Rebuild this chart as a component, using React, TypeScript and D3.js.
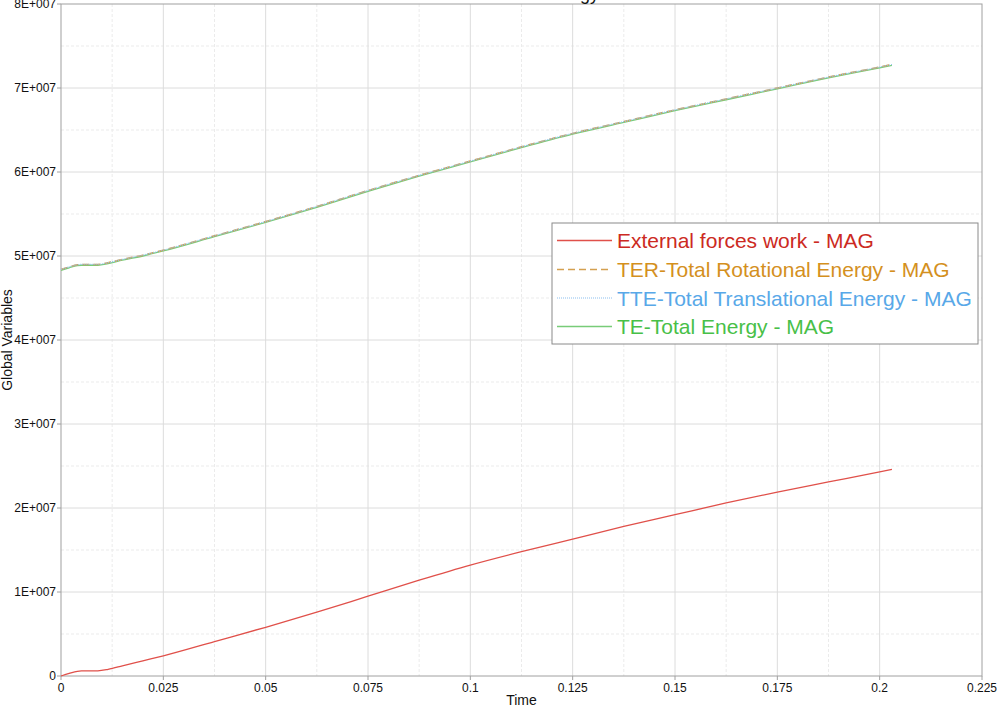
import React from "react";
import * as d3 from "d3";

const times = [0, 0.002, 0.004, 0.005, 0.007, 0.009, 0.0115, 0.015, 0.02, 0.025, 0.0375, 0.05, 0.0625, 0.075, 0.0875, 0.1, 0.1125, 0.125, 0.1375, 0.15, 0.1625, 0.175, 0.1875, 0.2, 0.203];
const externalWork = [0, 3.0e5, 5.5e5, 6.0e5, 6.0e5, 6.2e5, 8.0e5, 1.2e6, 1.8e6, 2.4e6, 4.1e6, 5.8e6, 7.6e6, 9.5e6, 1.14e7, 1.32e7, 1.48e7, 1.63e7, 1.78e7, 1.92e7, 2.06e7, 2.19e7, 2.31e7, 2.43e7, 2.46e7];
const rotationalEnergy = [4.84e7, 4.87e7, 4.895e7, 4.9e7, 4.9e7, 4.9e7, 4.92e7, 4.96e7, 5.01e7, 5.07e7, 5.24e7, 5.41e7, 5.59e7, 5.78e7, 5.96e7, 6.13e7, 6.30e7, 6.46e7, 6.60e7, 6.74e7, 6.87e7, 7.00e7, 7.13e7, 7.25e7, 7.28e7];
const translationalEnergy = [4.84e7, 4.87e7, 4.895e7, 4.9e7, 4.9e7, 4.9e7, 4.92e7, 4.96e7, 5.01e7, 5.07e7, 5.24e7, 5.41e7, 5.59e7, 5.78e7, 5.96e7, 6.13e7, 6.30e7, 6.46e7, 6.60e7, 6.74e7, 6.87e7, 7.00e7, 7.13e7, 7.25e7, 7.28e7];
const totalEnergy = [4.83e7, 4.86e7, 4.885e7, 4.89e7, 4.89e7, 4.89e7, 4.91e7, 4.95e7, 5.0e7, 5.06e7, 5.23e7, 5.40e7, 5.58e7, 5.77e7, 5.95e7, 6.12e7, 6.29e7, 6.45e7, 6.59e7, 6.73e7, 6.86e7, 6.99e7, 7.12e7, 7.24e7, 7.27e7];

const xTicks = [0, 0.025, 0.05, 0.075, 0.1, 0.125, 0.15, 0.175, 0.2, 0.225];
const xTickLabels = ["0", "0.025", "0.05", "0.075", "0.1", "0.125", "0.15", "0.175", "0.2", "0.225"];
const yTicks = [0, 1e7, 2e7, 3e7, 4e7, 5e7, 6e7, 7e7, 8e7];
const yTickLabels = ["0", "1E+007", "2E+007", "3E+007", "4E+007", "5E+007", "6E+007", "7E+007", "8E+007"];

const seriesNames = [
  "External forces work - MAG",
  "TER-Total Rotational Energy - MAG",
  "TTE-Total Translational Energy - MAG",
  "TE-Total Energy - MAG",
];

const FONT = "'Liberation Sans', Arial, sans-serif";

export default function App() {
  const left = 61, right = 982, top = 4, bottom = 676;
  const x = d3.scaleLinear().domain([0, 0.225]).range([left, right]);
  const y = d3.scaleLinear().domain([0, 8e7]).range([bottom, top]);

  const minorX = d3.range(0, 8).map((i) => xTicks[i] + 0.0125);
  const minorY = d3.range(0, 8).map((i) => yTicks[i] + 5e6);

  const line = (vals: number[]) =>
    d3
      .line<number>()
      .x((_, i) => x(times[i]))
      .y((v) => y(v))
      .curve(d3.curveMonotoneX)(vals) || "";

  const series = [
    { name: seriesNames[0], vals: externalWork, stroke: "#e0504a", text: "#cc2a22", dash: "", width: 1.3 },
    { name: seriesNames[1], vals: rotationalEnergy, stroke: "#d4a050", text: "#d4901e", dash: "7,4", width: 1.5 },
    { name: seriesNames[2], vals: translationalEnergy, stroke: "#8cc0f0", text: "#58a8e8", dash: "1,1", width: 1.2 },
    { name: seriesNames[3], vals: totalEnergy, stroke: "#78cc78", text: "#48c048", dash: "", width: 1.3 },
  ];
  const drawOrder = [0, 3, 1, 2];

  const legX = 552, legY = 223, legW = 426, legH = 121;
  const rowYs = [240.5, 269.5, 298, 326.5];

  return (
    <svg width={1000} height={707} style={{ position: "absolute", left: 0, top: 0, background: "#fff" }} fontFamily={FONT}>
      <rect x={0} y={0} width={1000} height={707} fill="#fff" />
      {minorX.map((t) => (
        <line key={"mx" + t} x1={x(t)} x2={x(t)} y1={top} y2={bottom} stroke="#ebebeb" strokeDasharray="3,2" />
      ))}
      {minorY.map((v) => (
        <line key={"my" + v} x1={left} x2={right} y1={y(v)} y2={y(v)} stroke="#ebebeb" strokeDasharray="3,2" />
      ))}
      {xTicks.slice(1, -1).map((t) => (
        <line key={"gx" + t} x1={x(t)} x2={x(t)} y1={top} y2={bottom} stroke="#dcdcdc" />
      ))}
      {yTicks.slice(1, -1).map((v) => (
        <line key={"gy" + v} x1={left} x2={right} y1={y(v)} y2={y(v)} stroke="#dcdcdc" />
      ))}
      <rect x={left} y={top} width={right - left} height={bottom - top} fill="none" stroke="#a0a0a0" />
      {xTicks.map((t, i) => (
        <g key={"xt" + t}>
          <line x1={x(t)} x2={x(t)} y1={bottom} y2={bottom + 4} stroke="#a0a0a0" />
          <text x={x(t)} y={692} fontSize={12} textAnchor="middle" fill="#111">{xTickLabels[i]}</text>
        </g>
      ))}
      {yTicks.map((v, i) => (
        <g key={"yt" + v}>
          <line x1={left - 4} x2={left} y1={y(v)} y2={y(v)} stroke="#a0a0a0" />
          <text x={56} y={y(v) + 4} fontSize={12} textAnchor="end" fill="#111">{yTickLabels[i]}</text>
        </g>
      ))}
      <text x={(left + right) / 2} y={705} fontSize={14} textAnchor="middle" fill="#111">Time</text>
      <text transform={`translate(12,${(top + bottom) / 2}) rotate(-90)`} fontSize={14} textAnchor="middle" fill="#111">Global Variables</text>
      <text x={599} y={-0.5} fontSize={18} textAnchor="end" fill="#111">Energy</text>
      {drawOrder.map((k) => {
        const s = series[k];
        return (
          <path key={"s" + k} d={line(s.vals)} fill="none" stroke={s.stroke} strokeWidth={s.width} strokeDasharray={s.dash || undefined} />
        );
      })}
      <rect x={legX} y={legY} width={legW} height={legH} fill="#fff" stroke="#8a8a8a" />
      {series.map((s, i) => (
        <g key={"lg" + i}>
          <line x1={557} x2={612} y1={rowYs[i]} y2={rowYs[i]} stroke={s.stroke} strokeWidth={s.width} strokeDasharray={s.dash || undefined} />
          <text x={617} y={rowYs[i] + 7.5} fontSize={21} fill={s.text}>{s.name}</text>
        </g>
      ))}
    </svg>
  );
}
